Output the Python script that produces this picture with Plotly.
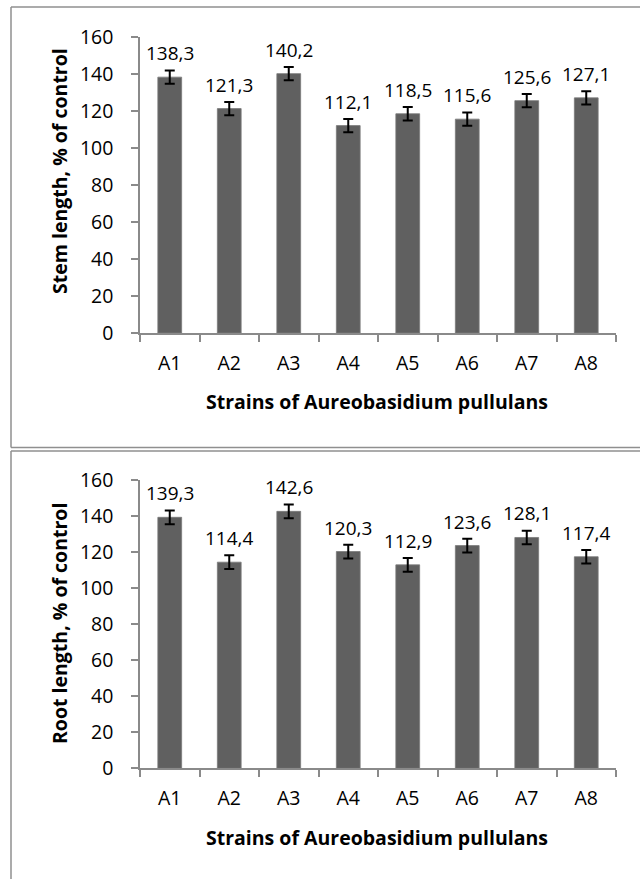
import plotly.graph_objects as go

strains = ["A1", "A2", "A3", "A4", "A5", "A6", "A7", "A8"]
stem_length = [138.3, 121.3, 140.2, 112.1, 118.5, 115.6, 125.6, 127.1]
stem_error = [3.6, 3.6, 3.6, 3.6, 3.6, 3.6, 3.6, 3.6]
root_length = [139.3, 114.4, 142.6, 120.3, 112.9, 123.6, 128.1, 117.4]
root_error = [3.8, 3.8, 3.8, 3.8, 3.8, 3.8, 3.8, 3.8]
y_ticks = [0, 20, 40, 60, 80, 100, 120, 140, 160]
x_title = "Strains of Aureobasidium pullulans"
stem_title = "Stem length, % of control"
root_title = "Root length, % of control"

W, H = 640, 879
FONT = "Open Sans"
BAR = "#606060"
AXC = "#8a8a8a"
FS_TICK = 19.5
FS_LABEL = 19
FS_TITLE = 19.5


def px(x):
    return x / W


def py(y):
    return 1 - y / H


fig = go.Figure()

for vals, errs, xa, ya in [(stem_length, stem_error, "x", "y"),
                           (root_length, root_error, "x2", "y2")]:
    fig.add_trace(go.Bar(
        x=strains, y=vals, xaxis=xa, yaxis=ya,
        marker=dict(color=BAR, line=dict(color="#7a7a7a", width=0.8)),
        error_y=dict(type="data", array=errs, visible=True,
                     color="black", thickness=2, width=5),
        showlegend=False, hoverinfo="skip",
    ))

annotations = []
for vals, xr, yr in [(stem_length, "x", "y"), (root_length, "x2", "y2")]:
    for c, v in zip(strains, vals):
        annotations.append(dict(
            x=c, y=v, xref=xr, yref=yr, yshift=24, showarrow=False,
            text=f"{v:.1f}".replace(".", ","),
            font=dict(family=FONT, size=FS_LABEL, color="black"),
            xanchor="center", yanchor="middle"))

# axis titles
annotations += [
    dict(x=px(377), y=py(402), xref="paper", yref="paper", text=f"<b>{x_title}</b>",
         showarrow=False, font=dict(family=FONT, size=FS_TITLE, color="black"),
         xanchor="center", yanchor="middle"),
    dict(x=px(377), y=py(837), xref="paper", yref="paper", text=f"<b>{x_title}</b>",
         showarrow=False, font=dict(family=FONT, size=FS_TITLE, color="black"),
         xanchor="center", yanchor="middle"),
    dict(x=px(59), y=py(171), xref="paper", yref="paper", text=f"<b>{stem_title}</b>",
         textangle=-90, showarrow=False, font=dict(family=FONT, size=FS_TITLE, color="black"),
         xanchor="center", yanchor="middle"),
    dict(x=px(59), y=py(624), xref="paper", yref="paper", text=f"<b>{root_title}</b>",
         textangle=-90, showarrow=False, font=dict(family=FONT, size=FS_TITLE, color="black"),
         xanchor="center", yanchor="middle"),
]

xcommon = dict(showline=True, linecolor=AXC, linewidth=1.5, ticks="outside",
               tickson="boundaries", ticklen=7, tickcolor=AXC, tickwidth=1.5,
               showgrid=False, tickfont=dict(family=FONT, size=FS_TICK, color="black"),
               ticklabelstandoff=12, automargin=False, fixedrange=True,
               domain=[px(140), px(616)])
ycommon = dict(showline=True, linecolor=AXC, linewidth=1.5, ticks="outside",
               ticklen=7, tickcolor=AXC, tickwidth=1.5, showgrid=False,
               zeroline=False, range=[0, 160], tickvals=y_ticks,
               tickfont=dict(family=FONT, size=FS_TICK, color="black"),
               ticklabelstandoff=14, automargin=False, fixedrange=True)

border = dict(color="#8f8f8f", width=1.5)
shapes = [
    dict(type="line", xref="paper", yref="paper", x0=px(11), x1=px(660), y0=py(7), y1=py(7), line=border),
    dict(type="line", xref="paper", yref="paper", x0=px(11), x1=px(11), y0=py(7), y1=py(447.5), line=border),
    dict(type="line", xref="paper", yref="paper", x0=px(11), x1=px(660), y0=py(447.5), y1=py(447.5), line=border),
    dict(type="line", xref="paper", yref="paper", x0=px(11), x1=px(660), y0=py(451), y1=py(451), line=border),
    dict(type="line", xref="paper", yref="paper", x0=px(11), x1=px(11), y0=py(451), y1=py(900), line=border),
]

fig.update_layout(
    width=W, height=H,
    margin=dict(l=0, r=0, t=0, b=0),
    paper_bgcolor="white", plot_bgcolor="white",
    bargap=0.6,
    xaxis=dict(**xcommon, anchor="y"),
    yaxis=dict(**ycommon, anchor="x", domain=[py(333), py(37)]),
    xaxis2=dict(**xcommon, anchor="y2"),
    yaxis2=dict(**ycommon, anchor="x2", domain=[py(768.3), py(480)]),
    annotations=annotations,
    shapes=shapes,
    font=dict(family=FONT),
)

fig.write_html(
    "out.html",
    config={"displayModeBar": False},
    post_script="document.body.style.margin='0';document.body.style.padding='0';"
                "document.body.style.overflow='hidden';",
)
